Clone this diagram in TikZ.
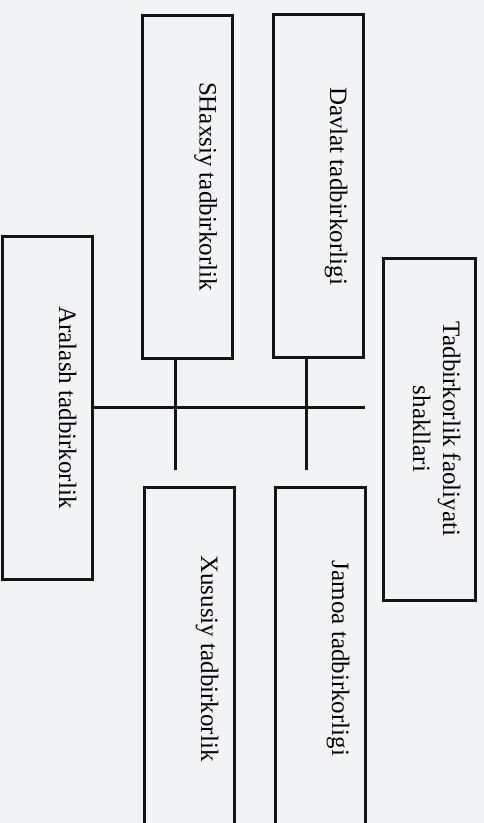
\documentclass[tikz,border=0pt]{standalone}
\usepackage{fontspec}
\setmainfont{Liberation Serif}
\usetikzlibrary{calc}
\definecolor{paper}{RGB}{241,243,245}
\definecolor{ink}{RGB}{20,20,20}
\tikzset{
  formbox/.style={draw=ink, line width=3pt, rotate=-90, inner sep=0pt,
    minimum width=343pt, text height=33pt, text depth=57pt,
    font=\fontsize{25}{30}\selectfont},
  titlebox/.style={draw=ink, line width=3pt, rotate=-90, inner sep=0pt,
    minimum width=342pt, text height=62pt, text depth=30pt,
    font=\fontsize{25}{30}\selectfont},
  link/.style={draw=ink, line width=3.2pt}
}
\begin{document}
\begin{tikzpicture}[x=1pt,y=1pt]
\fill[paper] (0,0) rectangle (484,-823);
\useasboundingbox (0,0) rectangle (484,-823);
\node[formbox] (sh) at (187.5,-186.5) {SHaxsiy tadbirkorlik};
\node[formbox] (dv) at (318,-186) {Davlat tadbirkorligi};
\node[titlebox] (tf) at (429,-429) {\begin{tabular}[b]{@{}c@{}}Tadbirkorlik faoliyati\\shakllari\end{tabular}};
\node[formbox] (ar) at (47,-407.5) {Aralash tadbirkorlik};
\node[formbox] (xu) at (189,-658.5) {Xususiy tadbirkorlik};
\node[formbox] (jm) at (320,-658.5) {Jamoa tadbirkorligi};
\coordinate (s1) at ($(sh.south east)!0.37!(sh.north east)$);
\coordinate (d1) at ($(dv.south east)!0.38!(dv.north east)$);
\coordinate (s1end) at (s1 |- 0,-470);
\coordinate (d1end) at (d1 |- 0,-470);
\coordinate (hend) at (dv.north |- ar.north);
\draw[link] (ar.north) -- (hend);
\draw[link] (s1) -- (s1end);
\draw[link] (d1) -- (d1end);
\end{tikzpicture}
\end{document}
